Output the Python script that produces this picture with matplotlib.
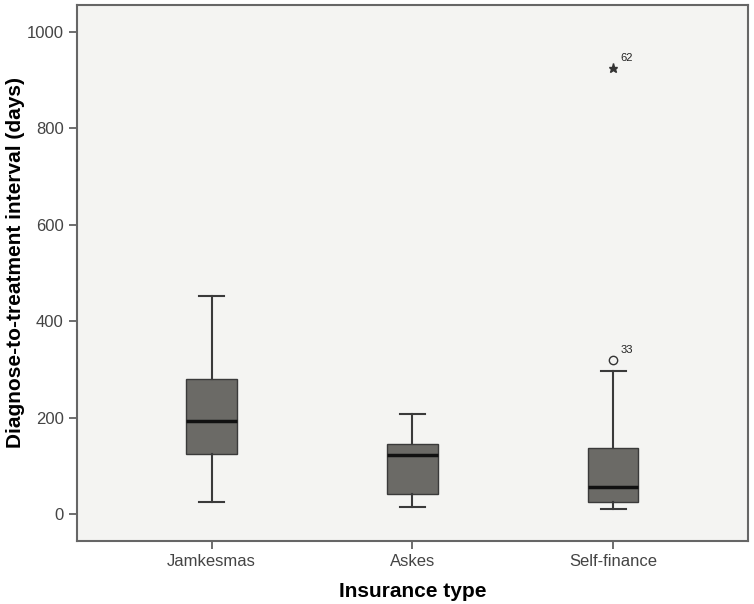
import matplotlib.pyplot as plt

plt.rcParams['font.family'] = ['Liberation Sans', 'DejaVu Sans']

# Box statistics (days)
groups = ['Jamkesmas', 'Askes', 'Self-finance']
whisker_low = [25, 15, 12]
q1 = [126, 42, 25]
median = [194, 124, 56]
q3 = [280, 145, 137]
whisker_high = [453, 207, 298]

# Outliers of Self-finance: mild (circle) and extreme (star)
mild_group = [3]
mild_value = [319]
mild_label = ['33']
extreme_group = [3]
extreme_value = [925]
extreme_label = ['62']

stats = []
for i in range(len(groups)):
    stats.append({'label': groups[i], 'whislo': whisker_low[i], 'q1': q1[i],
                  'med': median[i], 'q3': q3[i], 'whishi': whisker_high[i],
                  'fliers': []})

fig = plt.figure(figsize=(7.54, 6.04), dpi=100)
ax = fig.add_axes([0.102, 0.1043, 0.890, 0.8874])
ax.set_facecolor('#f4f4f2')

ax.bxp(stats, positions=[1, 2, 3], widths=0.25, patch_artist=True,
       showfliers=False,
       boxprops=dict(facecolor='#6b6a66', edgecolor='#3a3a3a', linewidth=1),
       medianprops=dict(color='#111111', linewidth=2.5),
       whiskerprops=dict(color='#3a3a3a', linewidth=1.5),
       capprops=dict(color='#3a3a3a', linewidth=1.5),
       capwidths=0.125)

ax.plot(mild_group, mild_value, 'o', ms=6, mfc='none', mec='#333333', mew=1)
ax.plot(extreme_group, extreme_value, '*', ms=6.5, color='#333333')
for g, v, t in zip(mild_group, mild_value, mild_label):
    ax.annotate(t, (g, v), xytext=(5, 5), textcoords='offset points',
                fontsize=8, color='#222222')
for g, v, t in zip(extreme_group, extreme_value, extreme_label):
    ax.annotate(t, (g, v), xytext=(5, 5), textcoords='offset points',
                fontsize=8, color='#222222')

ax.set_xlim(0.33, 3.67)
ax.set_ylim(-55, 1055)
ax.set_yticks([0, 200, 400, 600, 800, 1000])
ax.tick_params(axis='both', colors='#555555', labelcolor='#444444',
               labelsize=12, length=6, width=1.2)
for s in ax.spines.values():
    s.set_color('#666666')
    s.set_linewidth(1.5)

ax.set_xlabel('Insurance type', fontsize=15, fontweight='bold', labelpad=9)
ax.set_ylabel('Diagnose-to-treatment interval (days)', fontsize=15,
              fontweight='bold')
ax.yaxis.set_label_coords(-0.077, 0.52)

fig.savefig('out.png', dpi=100)
